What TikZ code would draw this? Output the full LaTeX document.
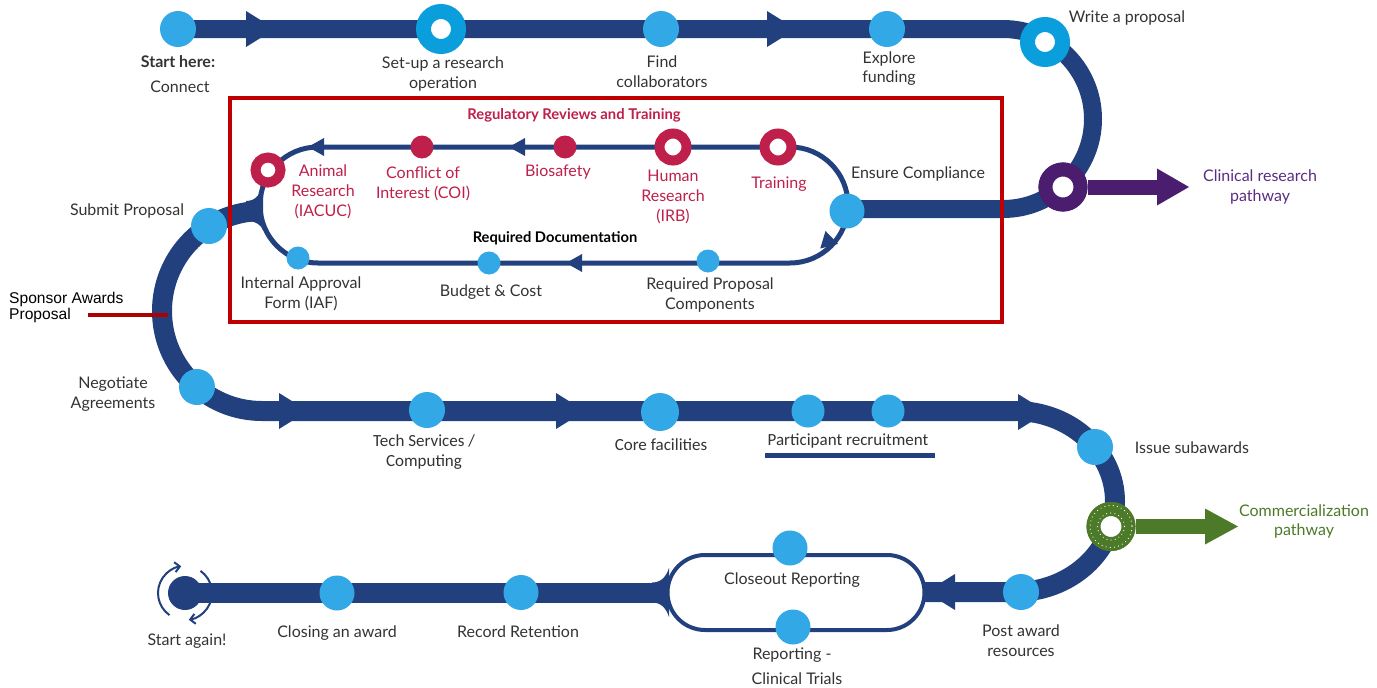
\documentclass[tikz,border=0pt]{standalone}
\usepackage{fontspec}
\setmainfont{Lato}
\newfontfamily\carl{Carlito}
\newfontfamily\arial{Liberation Sans}
\usetikzlibrary{arrows.meta}
\definecolor{navy}{HTML}{21407D}
\definecolor{lblue}{HTML}{33A8E6}
\definecolor{cyanr}{HTML}{0A9FDC}
\definecolor{crim}{HTML}{BE1F4B}
\definecolor{purp}{HTML}{4A1D6E}
\definecolor{purptxt}{HTML}{5A2D82}
\definecolor{grn}{HTML}{4C7A29}
\definecolor{boxred}{HTML}{C00000}
\definecolor{tgray}{HTML}{333333}
\begin{document}
\begin{tikzpicture}[x=1pt,y=-1pt,
  track/.style={draw=navy, line width=#1}, track/.default=20pt,
  thinloop/.style={draw=navy, line width=#1}, thinloop/.default=5pt,
  dot/.style={circle, fill=lblue, minimum size=#1, inner sep=0pt}, dot/.default=36pt,
  sdot/.style={circle, fill=#1, minimum size=23pt, inner sep=0pt},
  ring/.style n args={3}{circle, draw=#1, fill=white, inner sep=0pt, line width=#2, minimum size=#3},
  lbl/.style={text=tgray, font=\fontsize{16}{19.5}\selectfont, align=center, inner sep=0pt},
  clbl/.style={text=tgray, font=\carl\fontsize{17}{20}\selectfont, align=center, inner sep=0pt},
  rlbl/.style={text=crim, font=\fontsize{16}{20}\selectfont, align=center, inner sep=0pt},
  bigarr/.pic={\fill[navy] (15,0) -- (-14,18) -- (-14,-18) -- cycle;},
  smallarr/.pic={\fill[navy] (8,0) -- (-8,9) -- (-8,-9) -- cycle;}
]
\useasboundingbox (0,0) rectangle (1377,688);

% ---------- main track ----------
\coordinate (tstart) at (178,29);
\coordinate (tloop) at (1003,29);
\coordinate (ensurec) at (847,209);
\draw[track=18pt] (tstart) -- (tloop) arc[start angle=-90,end angle=90,radius=90] -- (ensurec);

\coordinate (junc) at (262,211);
\coordinate (rarc) at (1015,411);
\coordinate (stR) at (925,592);
\draw[track] (junc) arc[start angle=270,end angle=90,radius=100] -- (rarc)
  arc[start angle=-90,end angle=90,x radius=100,y radius=90.5] -- (stR);
\coordinate (stL) at (655,592.5);
\coordinate (again) at (185,592.5);
\draw[track] (stL) -- (again);

% flare into inner loop
\fill[navy] (246,201) .. controls (256,201) and (261,194) .. (263,182)
  -- (263,230) .. controls (261,225) and (256,221) .. (246,221) -- cycle;
% flare into closeout loop
\fill[navy] (652,582.5) .. controls (661,582.5) and (666,577) .. (669,568)
  -- (669,617) .. controls (666,608) and (661,602.5) .. (652,602.5) -- cycle;

% ---------- inner loop ----------
\draw[thinloop] (318,147) -- (790,147) arc[start angle=-90,end angle=90,radius=58]
  -- (318,263) arc[start angle=90,end angle=270,radius=58];

% ---------- closeout loop ----------
\draw[thinloop=4pt] (705,555) -- (887,555) arc[start angle=-90,end angle=90,radius=37.5]
  -- (705,630) arc[start angle=90,end angle=270,radius=37.5];

% ---------- arrowheads ----------
\pic at (260,29) {bigarr};
\pic at (781,29) {bigarr};
\pic at (293,411) {bigarr};
\pic at (570,411) {bigarr};
\pic at (1032,412) {bigarr};
\pic[rotate=180] at (941,592) {bigarr};
\pic[rotate=180] at (316,147) {smallarr};
\pic[rotate=180] at (517,147) {smallarr};
\pic[rotate=180] at (574,263) {smallarr};
\pic[rotate=-136] at (826,243) {smallarr};

% ---------- side pathways ----------
\node[ring={purp}{14pt}{35pt}] (clin) at (1063,187) {};
\coordinate (clinend) at (1158,187);
\draw[purp, line width=15pt] (clin.east) -- (clinend);
\fill[purp] (1157,168.5) -- (1189,187) -- (1157,205.5) -- cycle;
\node[ring={purp}{14pt}{35pt}] at (1063,187) {};

\node[ring={grn}{14pt}{35pt}] (comm) at (1111,526.5) {};
\coordinate (commend) at (1206,526.5);
\draw[grn, line width=15pt] (comm.east) -- (commend);
\fill[grn] (1205,508.5) -- (1238,526.5) -- (1205,544.5) -- cycle;
\node[ring={grn}{14pt}{35pt}] at (1111,526.5) {};
\draw[white, line width=1.2pt, dash pattern=on 0.01pt off 4.2pt, line cap=round] (1111,526.5) circle (21);
\draw[white, line width=1.2pt, dash pattern=on 0.01pt off 4.2pt, line cap=round] (1111,526.5) circle (13.5);

% ---------- dots on main track ----------
\node[dot] (connect) at (178,29) {};
\node[ring={cyanr}{15pt}{35pt}] (setup) at (441,29) {};
\node[dot] (find) at (661,29) {};
\node[dot] (explore) at (887,29) {};
\node[ring={cyanr}{15pt}{35pt}] (write) at (1045,42) {};
\node[dot=35pt] (ensure) at (847,211) {};
\node[dot] (submit) at (209,226) {};
\node[dot] (negot) at (197,387) {};
\node[dot] (tech) at (427,410) {};
\node[dot=38pt] (core) at (660,412) {};
\node[dot=33pt] (part1) at (808,411) {};
\node[dot=33pt] (part2) at (888,411) {};
\node[dot] (issue) at (1095,447) {};
\node[dot] (post) at (1021,592) {};
\node[dot=35pt] (closeout) at (790,548) {};
\node[dot=35pt] (clintr) at (793,627) {};
\node[dot=35pt] (record) at (521,592.5) {};
\node[dot=35pt] (closing) at (337,593) {};
\node[circle, fill=navy, minimum size=34pt, inner sep=0pt] (againdot) at (185,593) {};
\draw[navy, line width=2pt, -{Straight Barb[length=5pt,width=10pt]}]
  (185,593) ++(125:27) arc[start angle=125,end angle=262,radius=27];
\draw[navy, line width=2pt, -{Straight Barb[length=5pt,width=10pt]}]
  (185,593) ++(-55:27) arc[start angle=-55,end angle=82,radius=27];

% ---------- dots on inner loop ----------
\node[ring={crim}{10pt}{27pt}] (training) at (778,147) {};
\node[ring={crim}{10pt}{27pt}] (human) at (673,147) {};
\node[sdot=crim] (bio) at (565,147) {};
\node[sdot=crim] (coi) at (422,147) {};
\node[ring={crim}{10pt}{25pt}] (animal) at (268,170) {};
\node[sdot=lblue] (iaf) at (298,258) {};
\node[sdot=lblue] (budget) at (489,263) {};
\node[sdot=lblue] (reqprop) at (708,261) {};

% ---------- labels ----------
\node[lbl, font=\bfseries\fontsize{16}{19}\selectfont] at (178,62) {Start here:};
\node[lbl] at (180,87) {Connect};
\node[lbl] at (443,74) {Set-up a research\\operation};
\node[lbl] at (662,71.5) {Find\\collaborators};
\node[lbl] at (889,68.5) {Explore\\funding};
\node[lbl] at (1127,18) {Write a proposal};
\node[lbl, text=purptxt] at (1260,187) {Clinical research\\pathway};
\node[lbl] at (918,174) {Ensure Compliance};
\node[lbl, text=crim, font=\bfseries\fontsize{14.8}{17}\selectfont] at (574,115) {Regulatory Reviews and Training};
\node[lbl, text=black, font=\bfseries\fontsize{14.7}{17}\selectfont] at (555,238) {Required Documentation};
\node[rlbl] at (779,184) {Training};
\node[rlbl] at (673,197) {Human\\Research\\(IRB)};
\node[rlbl] at (558,172) {Biosafety};
\node[rlbl] at (423,183.5) {Conflict of\\Interest (COI)};
\node[rlbl] at (323,192) {Animal\\Research\\(IACUC)};
\node[lbl] at (301,294) {Internal Approval\\Form (IAF)};
\node[lbl] at (491,292) {Budget \& Cost};
\node[lbl] at (710,295) {Required Proposal\\Components};
\node[lbl] at (127,211) {Submit Proposal};
\node[lbl, anchor=west, align=left, font=\arial\fontsize{15.6}{16}\selectfont, text=black] at (9,307) {Sponsor Awards\\Proposal};
\node[lbl] at (113,394) {Negotiate\\Agreements};
\node[clbl] at (424,452) {Tech Services /\\Computing};
\node[clbl] at (661,445) {Core facilities};
\node[clbl] (partlbl) at (848,441) {Participant recruitment};
\fill[navy] (765,453) rectangle (935,458);
\node[lbl] at (1192,448) {Issue subawards};
\node[lbl, text=grn] at (1304,521.5) {Commercialization\\pathway};
\node[lbl] at (1021,640.5) {Post award\\resources};
\node[lbl] at (792,580) {Closeout Reporting};
\node[lbl] at (792,655) {Reporting -};
\node[lbl] at (797,679) {Clinical Trials};
\node[lbl] at (518,632) {Record Retention};
\node[lbl] at (337,633) {Closing an award};
\node[lbl] at (187,641) {Start again!};

% ---------- red box and sponsor line ----------
\draw[boxred, line width=4pt] (230,98) rectangle (1002,322);
\coordinate (spA) at (88,315);
\coordinate (spB) at (168,315);
\draw[boxred!90!black, line width=3.5pt] (spA) -- (spB);
\end{tikzpicture}
\end{document}
